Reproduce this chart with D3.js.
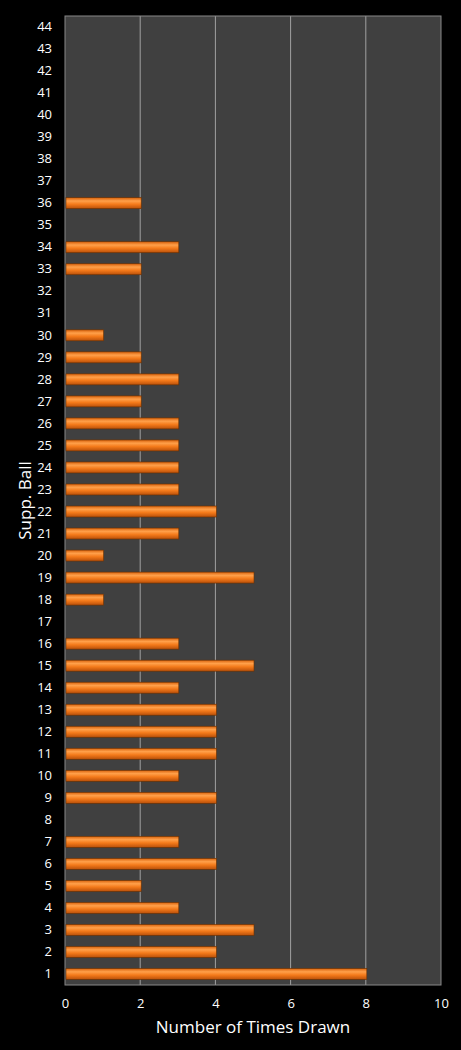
<!DOCTYPE html><html><head><meta charset="utf-8">
<script src="https://cdn.jsdelivr.net/npm/d3@7"></script>
<style>body{margin:0;background:#000}</style></head><body>
<svg id="c" width="461" height="1050"></svg>
<script>
const balls = d3.range(1,45).map(String);
const counts = [8,4,5,3,2,4,3,0,4,3,4,4,4,3,5,3,0,1,5,1,3,4,3,3,3,3,2,3,2,1,0,0,2,3,0,2,0,0,0,0,0,0,0,0];
const xTicks = [0,2,4,6,8,10];
const svg = d3.select("#c");
const m={l:65,r:20,t:16,b:65};
const W=461,H=1050;
const x=d3.scaleLinear().domain([0,10]).range([m.l,W-m.r]);
const y=d3.scaleBand().domain(balls.slice().reverse()).range([m.t,H-m.b]).paddingInner(0.5).paddingOuter(0.25);
svg.append("rect").attr("width",W).attr("height",H).attr("fill","#000");
const defs=svg.append("defs");
const g=defs.append("linearGradient").attr("id","og").attr("x1",0).attr("x2",0).attr("y1",0).attr("y2",1);
g.append("stop").attr("offset","0%").attr("stop-color","#d8620c");
g.append("stop").attr("offset","30%").attr("stop-color","#ffa04a");
g.append("stop").attr("offset","60%").attr("stop-color","#f47a1a");
g.append("stop").attr("offset","100%").attr("stop-color","#b9500a");
svg.append("rect").attr("x",x(0)).attr("y",m.t).attr("width",x(10)-x(0)).attr("height",H-m.b-m.t).attr("fill","#404040");
svg.append("g").selectAll("line").data(xTicks.slice(1,-1)).join("line")
 .attr("x1",d=>x(d)).attr("x2",d=>x(d)).attr("y1",m.t).attr("y2",H-m.b).attr("stroke","#a0a0a0").attr("stroke-width",1);
svg.append("rect").attr("x",x(0)).attr("y",m.t).attr("width",x(10)-x(0)).attr("height",H-m.b-m.t).attr("fill","none").attr("stroke","#888");
svg.append("g").selectAll("rect").data(counts.map((v,i)=>({b:balls[i],v}))).join("rect")
 .attr("x",x(0)+1).attr("y",d=>y(d.b)).attr("width",d=>d.v?x(d.v)-x(0):0).attr("height",y.bandwidth())
 .attr("fill","url(#og)").attr("stroke","#6a3000").attr("stroke-width",0.6);
const ax=svg.append("g").attr("transform",`translate(0,${H-m.b})`).call(d3.axisBottom(x).tickValues(xTicks).tickSize(0).tickPadding(14));
ax.select(".domain").remove();
const ay=svg.append("g").attr("transform",`translate(${m.l},0)`).call(d3.axisLeft(y).tickSize(0).tickPadding(13));
ay.select(".domain").remove();
svg.selectAll(".tick text").attr("fill","#fff").style("font-family","Open Sans, DejaVu Sans").style("font-size","13px");
svg.append("text").attr("x",(x(0)+x(10))/2).attr("y",1033).attr("text-anchor","middle").attr("fill","#fff")
 .style("font-family","Open Sans, DejaVu Sans").style("font-size","17px").text("Number of Times Drawn");
svg.append("text").attr("transform",`translate(31,${(m.t+H-m.b)/2}) rotate(-90)`).attr("text-anchor","middle").attr("fill","#fff")
 .style("font-family","Open Sans, DejaVu Sans").style("font-size","17px").text("Supp. Ball");
</script></body></html>
